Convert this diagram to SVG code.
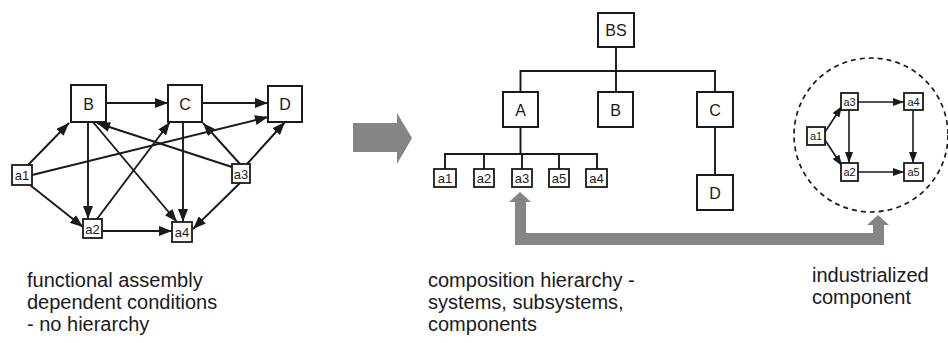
<svg xmlns="http://www.w3.org/2000/svg" width="948" height="343" viewBox="0 0 948 343">
<style>
.box{fill:#fff;stroke:#1a1a1a;stroke-width:2}
.sbox{fill:#fff;stroke:#1a1a1a;stroke-width:1.8}
.ln{fill:none;stroke:#1a1a1a;stroke-width:1.9}
.ar{fill:none;stroke:#1a1a1a;stroke-width:1.9;marker-end:url(#ah)}
.ar2{fill:none;stroke:#1a1a1a;stroke-width:1.6;marker-end:url(#ah2)}
.big{font-family:"Liberation Sans",Arial,sans-serif;font-size:16px;fill:#1a1a1a;text-anchor:middle}
.sm{font-family:"Liberation Sans",Arial,sans-serif;font-size:13px;fill:#1a1a1a;text-anchor:middle}
.xs{font-family:"Liberation Sans",Arial,sans-serif;font-size:11px;fill:#1a1a1a;text-anchor:middle}
.cap{font-family:"Liberation Sans",Arial,sans-serif;font-size:20px;fill:#1a1a1a}
.gray{fill:#858585}
</style>
<defs>
<marker id="ah" markerWidth="13" markerHeight="10" refX="13" refY="5" orient="auto" markerUnits="userSpaceOnUse"><path d="M0,0 L13,5 L0,10 Z" fill="#1a1a1a"/></marker>
<marker id="ah2" markerWidth="11" markerHeight="8" refX="11" refY="4" orient="auto" markerUnits="userSpaceOnUse"><path d="M0,0 L11,4 L0,8 Z" fill="#1a1a1a"/></marker>
</defs>

<!-- Left graph connectors -->
<g id="left-connectors">
<line class="ar" x1="106" y1="103" x2="168" y2="103"/>
<line class="ar" x1="202" y1="103" x2="268" y2="103"/>
<line class="ar" x1="28" y1="165" x2="69" y2="123"/>
<line class="ar" x1="32" y1="175" x2="268" y2="117"/>
<line class="ar" x1="30" y1="185" x2="83" y2="227"/>
<line class="ar" x1="88" y1="122" x2="88" y2="219"/>
<line class="ar" x1="93" y1="122" x2="177" y2="222"/>
<line class="ar" x1="232" y1="167" x2="97" y2="123"/>
<line class="ar" x1="97" y1="219" x2="170" y2="122"/>
<line class="ar" x1="183" y1="122" x2="183" y2="222"/>
<line class="ar" x1="240" y1="164" x2="203" y2="123"/>
<line class="ar" x1="247" y1="164" x2="285" y2="122"/>
<line class="ar" x1="240" y1="183" x2="193" y2="229"/>
<line class="ar" x1="102" y1="231" x2="172" y2="231"/>
</g>

<!-- Left graph nodes -->
<g id="L-B"><rect class="box" x="71" y="85" width="35" height="37"/><text class="big" x="88.5" y="109.5">B</text></g>
<g id="L-C"><rect class="box" x="168" y="85" width="34" height="37"/><text class="big" x="185" y="109.5">C</text></g>
<g id="L-D"><rect class="box" x="268" y="86" width="34" height="36"/><text class="big" x="285" y="109.5">D</text></g>
<g id="L-a1"><rect class="sbox" x="12" y="165" width="20" height="20"/><text class="sm" x="22" y="180">a1</text></g>
<g id="L-a2"><rect class="sbox" x="83" y="219" width="19" height="19"/><text class="sm" x="92.5" y="233.5">a2</text></g>
<g id="L-a4"><rect class="sbox" x="172" y="222" width="20" height="20"/><text class="sm" x="182" y="237">a4</text></g>
<g id="L-a3"><rect class="sbox" x="232" y="164" width="18" height="19"/><text class="sm" x="241" y="178.5">a3</text></g>

<!-- Big gray arrow -->
<g id="transition-arrow"><polygon class="gray" points="353,123 397,123 397,113 412,138 397,164 397,152 353,152"/></g>

<!-- Hierarchy connectors -->
<g id="hier-connectors">
<polyline class="ln" points="616,47 616,71"/>
<polyline class="ln" points="520.5,92 520.5,71 715,71 715,92"/>
<line class="ln" x1="616" y1="71" x2="616" y2="92"/>
<line class="ln" x1="715" y1="127" x2="715" y2="175"/>
<line class="ln" x1="520.5" y1="127" x2="520.5" y2="154"/>
<polyline class="ln" points="445,169 445,154 597,154 597,169"/>
<line class="ln" x1="484" y1="154" x2="484" y2="169"/>
<line class="ln" x1="522" y1="154" x2="522" y2="169"/>
<line class="ln" x1="559" y1="154" x2="559" y2="169"/>
</g>

<!-- Hierarchy nodes -->
<g id="H-BS"><rect class="box" x="598" y="13" width="36" height="34"/><text class="big" x="616" y="35.5">BS</text></g>
<g id="H-A"><rect class="box" x="503" y="92" width="35" height="35"/><text class="big" x="520.5" y="115.5">A</text></g>
<g id="H-B"><rect class="box" x="598" y="92" width="35" height="35"/><text class="big" x="615.5" y="115.5">B</text></g>
<g id="H-C"><rect class="box" x="697" y="92" width="36" height="35"/><text class="big" x="715" y="115.5">C</text></g>
<g id="H-D"><rect class="box" x="697" y="175" width="36" height="35"/><text class="big" x="715" y="198.5">D</text></g>
<g id="H-a1"><rect class="sbox" x="434" y="169" width="22" height="18"/><text class="sm" x="445" y="182.5">a1</text></g>
<g id="H-a2"><rect class="sbox" x="474" y="169" width="20" height="18"/><text class="sm" x="484" y="182.5">a2</text></g>
<g id="H-a3"><rect class="sbox" x="512" y="169" width="20" height="18"/><text class="sm" x="522" y="182.5">a3</text></g>
<g id="H-a5"><rect class="sbox" x="549" y="169" width="20" height="18"/><text class="sm" x="559" y="182.5">a5</text></g>
<g id="H-a4"><rect class="sbox" x="586" y="169" width="21" height="18"/><text class="sm" x="596.5" y="182.5">a4</text></g>

<!-- Gray L arrow -->
<g id="feedback-arrow"><polygon class="gray" points="515,245 884,245 884,225 889,225 878,215 867,225 873,225 873,233 526,233 526,202 531,202 520,192 509,202 515,202"/></g>

<!-- Dashed circle -->
<g id="component-boundary"><circle cx="871" cy="135" r="77" fill="none" stroke="#1a1a1a" stroke-width="1.7" stroke-dasharray="5,4"/></g>

<!-- Circle graph connectors -->
<g id="circle-connectors">
<line class="ar2" x1="825" y1="132" x2="842" y2="106"/>
<line class="ar2" x1="825" y1="140" x2="842" y2="166"/>
<line class="ar2" x1="849" y1="110" x2="849" y2="163"/>
<line class="ar2" x1="858" y1="102" x2="904" y2="102"/>
<line class="ar2" x1="913" y1="110" x2="913" y2="163"/>
<line class="ar2" x1="858" y1="172" x2="904" y2="172"/>
</g>

<!-- Circle graph nodes -->
<g id="C-a3"><rect class="sbox" x="841" y="93" width="17" height="17"/><text class="xs" x="849.5" y="105.5">a3</text></g>
<g id="C-a4"><rect class="sbox" x="904" y="93" width="19" height="17"/><text class="xs" x="913.5" y="105.5">a4</text></g>
<g id="C-a1"><rect class="sbox" x="807" y="127" width="18" height="18"/><text class="xs" x="816" y="140">a1</text></g>
<g id="C-a2"><rect class="sbox" x="841" y="163" width="17" height="18"/><text class="xs" x="849.5" y="176">a2</text></g>
<g id="C-a5"><rect class="sbox" x="904" y="163" width="19" height="18"/><text class="xs" x="913.5" y="176">a5</text></g>

<!-- Captions -->
<g id="caption-left">
<text class="cap" x="27" y="287">functional assembly</text>
<text class="cap" x="27" y="309">dependent conditions</text>
<text class="cap" x="27" y="331">- no hierarchy</text>
</g>
<g id="caption-middle">
<text class="cap" x="428" y="287">composition hierarchy -</text>
<text class="cap" x="428" y="309">systems, subsystems,</text>
<text class="cap" x="428" y="331">components</text>
</g>
<g id="caption-right">
<text class="cap" x="812" y="282">industrialized</text>
<text class="cap" x="812" y="304">component</text>
</g>
</svg>
